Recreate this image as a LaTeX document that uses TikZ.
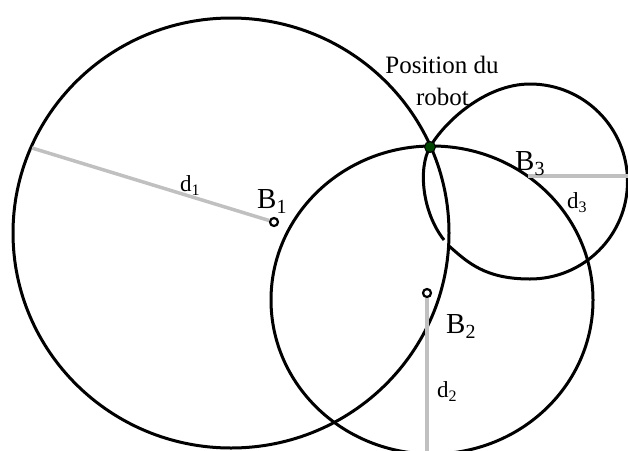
\documentclass[tikz,border=0pt]{standalone}
\usepackage{fontspec}
\setmainfont{Liberation Serif}
\definecolor{radgray}{RGB}{192,192,192}
\definecolor{robotgreen}{RGB}{0,70,0}
\newcommand\Bsub[1]{\raisebox{-5pt}{\fontsize{20}{20}\selectfont #1}}
\newcommand\dsub[1]{\raisebox{-4pt}{\fontsize{16}{16}\selectfont #1}}
\begin{document}
\begin{tikzpicture}[x=1pt,y=-1pt,
  ring/.style={line width=3pt, black},
  rayline/.style={line width=3.5pt, radgray},
  beacon/.style={circle, draw, line width=2.2pt, fill=white, minimum size=8pt, inner sep=0pt},
  blabel/.style={anchor=base west, inner sep=0pt, font=\fontsize{29}{31}\selectfont},
  dlabel/.style={anchor=base west, inner sep=0pt, font=\fontsize{23}{25}\selectfont},
  plabel/.style={anchor=base, inner sep=0pt, font=\fontsize{25}{28}\selectfont}]
\useasboundingbox (0,0) rectangle (628,450);
% circles
\draw[ring] (231,233) ellipse [x radius=218pt, y radius=215pt];
\draw[ring] (432,300) ellipse [x radius=161pt, y radius=154pt];
\draw[ring] (444,240) .. controls (422,212) and (418,168) .. (430,147)
  .. controls (444,122.5) and (485,84) .. (530,84)
  .. controls (583.85,84) and (627.5,127.65) .. (627.5,181.5)
  .. controls (627.5,235.35) and (583.85,279) .. (530,279)
  .. controls (485,279) and (467.75,262.5) .. (449,246);
% beacons and radii
\node[beacon] (b1) at (274,222) {};
\node[beacon] (b2) at (427,293) {};
\coordinate (e1) at (32,148);
\coordinate (e2) at (427,452);
\coordinate (b3) at (528,176);
\coordinate (e3) at (632,176);
\draw[rayline] (e1) -- (b1);
\draw[rayline] (b2) -- (e2);
\draw[rayline] (b3) -- (e3);
% robot
\node[circle, draw, line width=1pt, fill=robotgreen, minimum size=11pt, inner sep=0pt] (robot) at (430,147) {};
% labels
\node[blabel] (lb1) at (257,208) {B\Bsub{1}};
\node[blabel] (lb2) at (446,333) {B\Bsub{2}};
\node[blabel] (lb3) at (515,170) {B\Bsub{3}};
\node[dlabel] (ld1) at (180,191) {d\dsub{1}};
\node[dlabel] (ld2) at (437,397) {d\dsub{2}};
\node[dlabel] (ld3) at (567,208) {d\dsub{3}};
\node[plabel] (pos1) at (442,73) {Position du};
\node[plabel] (pos2) at (442.5,105) {robot};
\end{tikzpicture}
\end{document}
